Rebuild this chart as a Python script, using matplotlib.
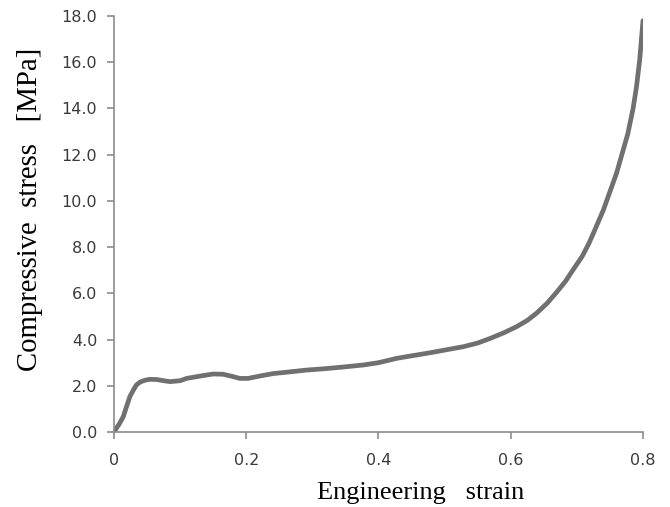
import matplotlib.pyplot as plt

# values
strain = [0, 0.002, 0.008, 0.014, 0.019, 0.024, 0.030, 0.034, 0.040, 0.047,
          0.054, 0.065, 0.075, 0.085, 0.10, 0.11, 0.13, 0.15, 0.165, 0.18,
          0.19, 0.203, 0.22, 0.241, 0.265, 0.291, 0.315, 0.342, 0.377, 0.40,
          0.428, 0.455, 0.478, 0.503, 0.528, 0.55, 0.569, 0.59, 0.609, 0.625,
          0.639, 0.655, 0.670, 0.683, 0.695, 0.708, 0.718, 0.728, 0.74, 0.75,
          0.76, 0.768, 0.777, 0.785, 0.79, 0.795, 0.80]
stress = [0, 0.09, 0.35, 0.66, 1.1, 1.53, 1.85, 2.04, 2.17, 2.24,
          2.28, 2.27, 2.22, 2.18, 2.22, 2.32, 2.42, 2.51, 2.50, 2.40,
          2.32, 2.32, 2.42, 2.53, 2.60, 2.68, 2.73, 2.80, 2.90, 3.0,
          3.19, 3.32, 3.43, 3.56, 3.69, 3.85, 4.05, 4.30, 4.56, 4.83,
          5.14, 5.57, 6.07, 6.53, 7.05, 7.6, 8.15, 8.8, 9.6, 10.4,
          11.2, 12.0, 12.9, 14.0, 14.9, 16.1, 17.8]

x_ticks = [0, 0.2, 0.4, 0.6, 0.8]
x_tick_labels = ["0", "0.2", "0.4", "0.6", "0.8"]
y_ticks = [0, 2, 4, 6, 8, 10, 12, 14, 16, 18]
y_tick_labels = ["%.1f" % v for v in y_ticks]

fig = plt.figure(figsize=(6.7, 5.07), dpi=100)
ax = fig.add_axes([0.1701, 0.1479, 0.7896, 0.8205])

ax.plot(strain, stress, color="#707070", lw=3.4, solid_capstyle="round")

ax.set_xlim(0, 0.8)
ax.set_ylim(0, 18)
ax.set_xticks(x_ticks)
ax.set_xticklabels(x_tick_labels)
ax.set_yticks(y_ticks)
ax.set_yticklabels(y_tick_labels)

for side in ["top", "right"]:
    ax.spines[side].set_visible(False)
for side in ["left", "bottom"]:
    ax.spines[side].set_color("#8c8c8c")
    ax.spines[side].set_linewidth(1.2)

ax.tick_params(direction="out", length=5, width=1.2, color="#8c8c8c",
               labelsize=11.5, labelcolor="#3a3a3a")
ax.tick_params(axis="x", pad=10)
ax.tick_params(axis="y", pad=7)

serif = ["Liberation Serif", "DejaVu Serif"]
ax.set_xlabel("Engineering   strain", family=serif, fontsize=19)
ax.xaxis.set_label_coords(0.58, -0.12)
ax.set_ylabel("Compressive  stress   [MPa]", family=serif, fontsize=20.7)
ax.yaxis.set_label_coords(-0.134, 0.534)

fig.savefig("out.png", dpi=100)
